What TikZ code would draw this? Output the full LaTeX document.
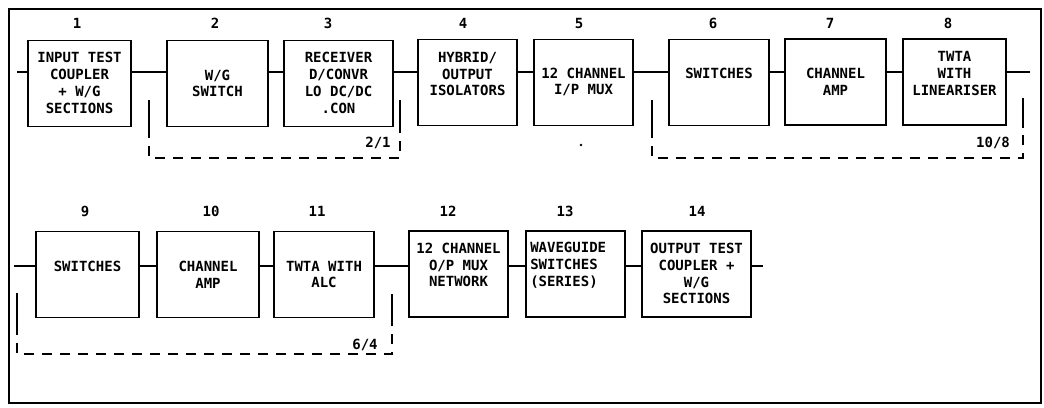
\documentclass[tikz,border=0pt]{standalone}
\usepackage{fontspec}
\newfontfamily\plotfont{DejaVu Sans Mono}[BoldFont={DejaVu Sans Mono Bold}]
\begin{document}
\begin{tikzpicture}[x=0.75pt,y=-0.75pt,
  every node/.style={font=\plotfont\bfseries\fontsize{10.5}{12.6}\selectfont},
  blk/.style={draw,line width=1.3pt,minimum width={#1*0.75pt},minimum height={86*0.75pt},inner sep=0pt},
  blk/.default=100,
  txt/.style={align=center,inner sep=0pt},
  num/.style={inner sep=0pt},
  wire/.style={line width=1.3pt},
  frame/.style={line width=1.3pt},
  loop/.style={line width=1.2pt,dash pattern=on 7.5pt off 6pt}]
\useasboundingbox (0,0) rectangle (1044,407);
\draw[frame] (9,9) rectangle (1041,403);
% row 1 boxes
\node[blk=103] (b1) at (79.5,83.5) {};
\node[blk=101] (b2) at (217.5,83.5) {};
\node[blk=109] (b3) at (338.5,83.5) {};
\node[blk=99]  (b4) at (467.5,82.5) {};
\node[blk=99]  (b5) at (583.5,82.5) {};
\node[blk=100] (b6) at (719,82.5) {};
\node[blk=101] (b7) at (835.5,82) {};
\node[blk=103] (b8) at (954.5,82) {};
% row 2 boxes
\node[blk=103] (b9)  at (87.5,274.5) {};
\node[blk=102] (b10) at (208,274.5) {};
\node[blk=100] (b11) at (324,274.5) {};
\node[blk=99]  (b12) at (458.5,274) {};
\node[blk=99]  (b13) at (575.5,274) {};
\node[blk=109] (b14) at (696.5,274) {};
% texts
\node[txt] (t1) at (79.5,83) {INPUT TEST\\COUPLER\\+ W/G\\SECTIONS};
\node[txt] (t2) at (217.5,83.5) {W/G\\SWITCH};
\node[txt] (t3) at (338.5,83) {RECEIVER\\D/CONVR\\LO DC/DC\\.CON};
\node[txt] (t4) at (467.5,74) {HYBRID/\\OUTPUT\\ISOLATORS};
\node[txt] (t5) at (583.5,82) {12 CHANNEL\\I/P MUX};
\node[txt] (t6) at (719,73) {SWITCHES};
\node[txt] (t7) at (835.5,81.5) {CHANNEL\\AMP};
\node[txt] (t8) at (954.5,73.5) {TWTA\\WITH\\LINEARISER};
\node[txt] (t9) at (87.5,266) {SWITCHES};
\node[txt] (t10) at (208,274.5) {CHANNEL\\AMP};
\node[txt] (t11) at (324,274.5) {TWTA WITH\\ALC};
\node[txt] (t12) at (458.5,265) {12 CHANNEL\\O/P MUX\\NETWORK};
\node[txt,align=left,anchor=west] (t13) at (530,265) {WAVEGUIDE\\SWITCHES\\(SERIES)};
\node[txt] (t14) at (696.5,273.5) {OUTPUT TEST\\COUPLER +\\W/G\\SECTIONS};
% numbers
\node[num] (n1) at (77,23) {1};
\node[num] (n2) at (215,23) {2};
\node[num] (n3) at (328,23) {3};
\node[num] (n4) at (463,23) {4};
\node[num] (n5) at (579,23) {5};
\node[num] (n6) at (713,23) {6};
\node[num] (n7) at (830,23) {7};
\node[num] (n8) at (948,23) {8};
\node[num] (n9) at (85,211) {9};
\node[num] (n10) at (211,211) {10};
\node[num] (n11) at (317,211) {11};
\node[num] (n12) at (448,211) {12};
\node[num] (n13) at (565,211) {13};
\node[num] (n14) at (697,211) {14};
% connectors row 1
\coordinate (L1) at (0,72);
\coordinate (in1) at (17,72);
\coordinate (out1) at (1030,72);
\draw[wire] (in1) -- (b1.west|-L1);
\draw[wire] (b1.east|-L1) -- (b2.west|-L1);
\draw[wire] (b2.east|-L1) -- (b3.west|-L1);
\draw[wire] (b3.east|-L1) -- (b4.west|-L1);
\draw[wire] (b4.east|-L1) -- (b5.west|-L1);
\draw[wire] (b5.east|-L1) -- (b6.west|-L1);
\draw[wire] (b6.east|-L1) -- (b7.west|-L1);
\draw[wire] (b7.east|-L1) -- (b8.west|-L1);
\draw[wire] (b8.east|-L1) -- (out1);
% connectors row 2
\coordinate (L2) at (0,266);
\coordinate (in2) at (14,266);
\coordinate (out2) at (763,266);
\draw[wire] (in2) -- (b9.west|-L2);
\draw[wire] (b9.east|-L2) -- (b10.west|-L2);
\draw[wire] (b10.east|-L2) -- (b11.west|-L2);
\draw[wire] (b11.east|-L2) -- (b12.west|-L2);
\draw[wire] (b12.east|-L2) -- (b13.west|-L2);
\draw[wire] (b13.east|-L2) -- (b14.west|-L2);
\draw[wire] (b14.east|-L2) -- (out2);
% redundancy loops
\draw[line width=1.2pt] (149,100) -- (149,128);
\draw[loop] (149,128) -- (149,158) -- (400,158) -- (400,128);
\draw[line width=1.2pt] (400,128) -- (400,100);
\node[num] (r1) at (378,143) {2/1};
\draw[line width=1.2pt] (652,100) -- (652,128);
\draw[loop] (652,128) -- (652,158) -- (1023,158) -- (1023,128);
\draw[line width=1.2pt] (1023,128) -- (1023,98);
\node[num] (r2) at (993,143) {10/8};
\fill (581,145) circle (1.3);
\draw[line width=1.2pt] (17,293) -- (17,325);
\draw[loop] (17,325) -- (17,354) -- (392,354) -- (392,325);
\draw[line width=1.2pt] (392,325) -- (392,294);
\node[num] (r3) at (365,345) {6/4};
\end{tikzpicture}
\end{document}
